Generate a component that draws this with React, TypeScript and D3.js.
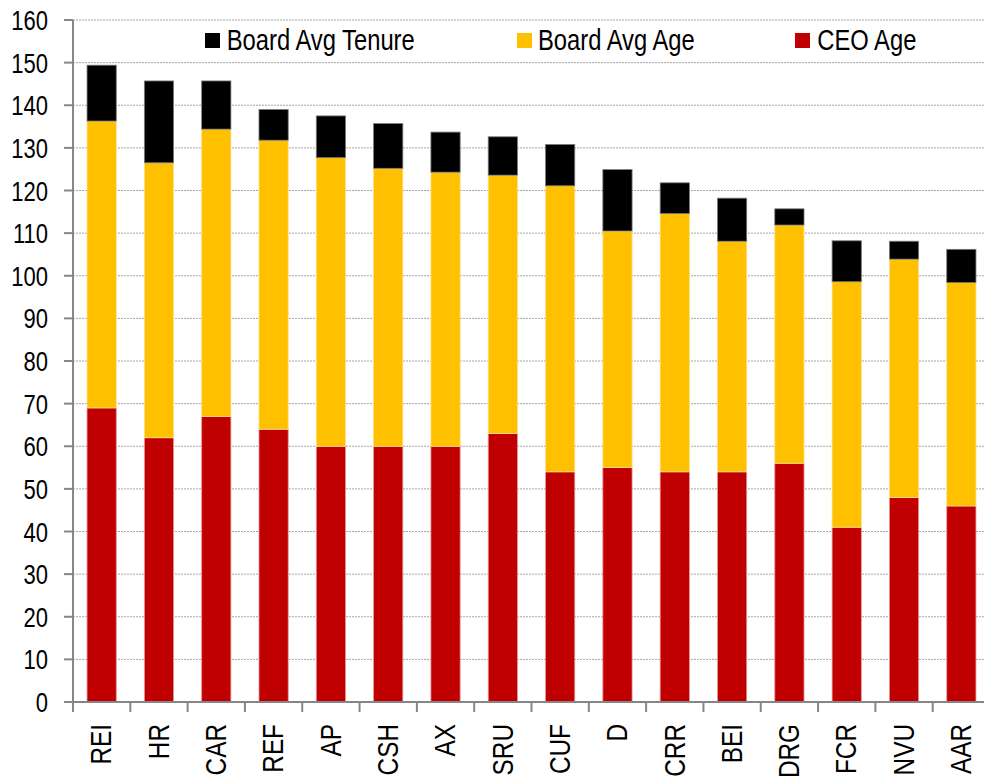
import React from "react";
import * as d3 from "d3";

const categories = ["REI", "HR", "CAR", "REF", "AP", "CSH", "AX", "SRU", "CUF", "D", "CRR", "BEI", "DRG", "FCR", "NVU", "AAR"];
const ceoAge = [69, 62, 67, 64, 60, 60, 60, 63, 54, 55, 54, 54, 56, 41, 48, 46];
const boardAvgAge = [67.3, 64.5, 67.4, 67.8, 67.7, 65.2, 64.3, 60.6, 67.1, 55.5, 60.6, 54.1, 55.9, 57.6, 55.9, 52.4];
const boardAvgTenure = [13.1, 19.2, 11.3, 7.2, 9.8, 10.5, 9.4, 9.0, 9.7, 14.4, 7.2, 10.1, 3.8, 9.6, 4.2, 7.8];
const yTicks = [0, 10, 20, 30, 40, 50, 60, 70, 80, 90, 100, 110, 120, 130, 140, 150, 160];

const seriesKeys = ["ceo", "age", "tenure"];
const seriesColors: Record<string, string> = { ceo: "#C00000", age: "#FFC000", tenure: "#000000" };
const seriesStrokes: Record<string, string> = { ceo: "#e39a9a", age: "#ffe08a", tenure: "#7a7a7a" };
const legendItems = [
  { key: "tenure", label: "Board Avg Tenure", x: 205, tx: 226.7 },
  { key: "age", label: "Board Avg Age", x: 517, tx: 538 },
  { key: "ceo", label: "CEO Age", x: 795, tx: 817.3 },
];

export default function App() {
  const W = 984, H = 779;
  const left = 73, right = 990, top = 20, bottom = 702;
  const x = d3.scaleBand<string>().domain(categories).range([left, right]).paddingInner(0.49).paddingOuter(0.245);
  const y = d3.scaleLinear().domain([0, 160]).range([bottom, top]);
  const rows = categories.map((c, i) => ({ cat: c, ceo: ceoAge[i], age: boardAvgAge[i], tenure: boardAvgTenure[i] }));
  const stacked = d3.stack<any>().keys(seriesKeys)(rows);
  const font = "'Liberation Sans', Arial, sans-serif";
  const axisColor = "#868686";

  return (
    <svg width={W} height={H} style={{ position: "absolute", left: 0, top: 0, background: "#fff" }} fontFamily={font}>
      <rect x={0} y={0} width={W} height={H} fill="#fff" />
      {/* gridlines */}
      {yTicks.filter((t) => t > 0).map((t) => (
        <line key={"g" + t} x1={left} x2={W} y1={y(t)} y2={y(t)} stroke="#a6a6a6" strokeWidth={1} strokeDasharray="2,1" />
      ))}
      {/* bars */}
      {stacked.map((s) => (
        <g key={s.key}>
          {s.map((d: any, i: number) => (
            <rect
              key={i}
              x={x(categories[i])!}
              width={x.bandwidth()}
              y={y(d[1])}
              height={y(d[0]) - y(d[1])}
              fill={seriesColors[s.key]}
              stroke={seriesStrokes[s.key]}
              strokeWidth={0.8}
            />
          ))}
        </g>
      ))}
      {/* y axis */}
      <line x1={left} x2={left} y1={top} y2={bottom + 10} stroke={axisColor} strokeWidth={2} />
      {yTicks.map((t) => (
        <g key={"t" + t}>
          <line x1={64} x2={left} y1={y(t)} y2={y(t)} stroke={axisColor} strokeWidth={2} />
          <text transform={`translate(48,${y(t)}) scale(0.786,1)`} textAnchor="end" dominantBaseline="central" fontSize={28} fill="#000">
            {t}
          </text>
        </g>
      ))}
      {/* x axis */}
      <line x1={left} x2={W} y1={bottom} y2={bottom} stroke={axisColor} strokeWidth={2} />
      {d3.range(categories.length + 1).map((i) => (
        <line key={"xt" + i} x1={left + i * x.step()} x2={left + i * x.step()} y1={bottom} y2={bottom + 10} stroke={axisColor} strokeWidth={2} />
      ))}
      {categories.map((c) => (
        <text
          key={"xl" + c}
          transform={`translate(${x(c)! + x.bandwidth() / 2},724) rotate(-90) scale(0.84,1)`}
          textAnchor="end"
          dominantBaseline="central"
          fontSize={29}
          fill="#000"
        >
          {c}
        </text>
      ))}
      {/* legend */}
      {legendItems.map((l) => (
        <g key={"lg" + l.key}>
          <rect x={l.x} y={33} width={15} height={15} fill={seriesColors[l.key]} />
          <text transform={`translate(${l.tx},40.5) scale(0.82,1)`} dominantBaseline="central" fontSize={29} fill="#000">
            {l.label}
          </text>
        </g>
      ))}
    </svg>
  );
}
